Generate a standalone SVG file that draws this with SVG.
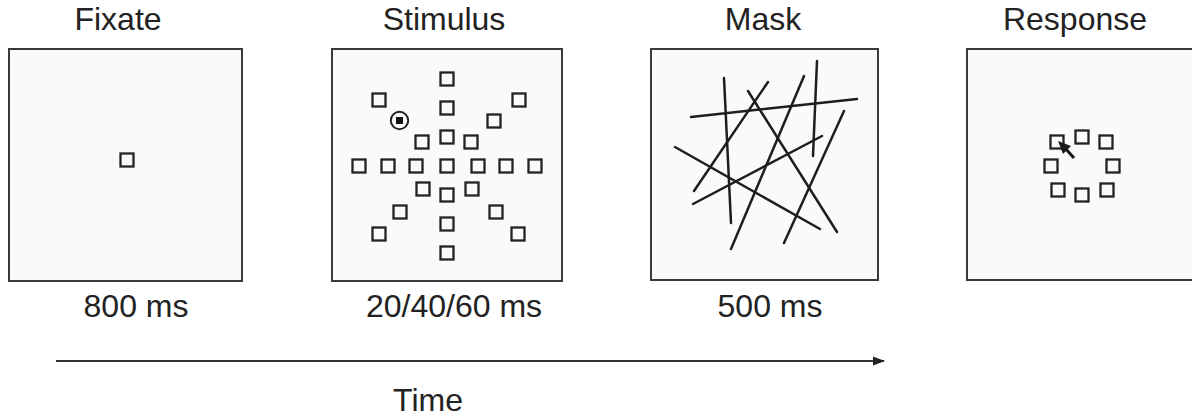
<svg xmlns="http://www.w3.org/2000/svg" width="1192" height="419" viewBox="0 0 1192 419">
<style>
.lbl{font-family:"Liberation Sans",Arial,sans-serif;font-size:32px;fill:#222;text-anchor:middle}
.panel{fill:#fafafa;stroke:#3a3a3a;stroke-width:2}
.sq{fill:none;stroke:#222;stroke-width:2.3}
.ln{stroke:#1e1e1e;stroke-width:2.5;stroke-linecap:round;fill:none}
</style>
<defs>
<rect id="s" x="-6.5" y="-6.5" width="13" height="13" class="sq"/>
<marker id="ah" markerWidth="12" markerHeight="10" refX="11" refY="5" orient="auto" markerUnits="userSpaceOnUse">
<path d="M0,0.5 L12,5 L0,9.5 Z" fill="#222"/>
</marker>
</defs>
<rect width="1192" height="419" fill="#fff"/>

<g id="fixate">
<text class="lbl" x="118" y="30">Fixate</text>
<rect class="panel" x="9" y="49" width="233" height="232"/>
<use href="#s" x="127" y="160"/>
<text class="lbl" x="136" y="317">800 ms</text>
</g>

<g id="stimulus">
<text class="lbl" x="444" y="30">Stimulus</text>
<rect class="panel" x="332" y="49" width="230" height="232"/>
<use href="#s" x="447" y="79"/>
<use href="#s" x="447" y="108"/>
<use href="#s" x="447" y="137"/>
<use href="#s" x="447" y="166"/>
<use href="#s" x="447" y="195"/>
<use href="#s" x="447" y="224"/>
<use href="#s" x="447" y="253"/>
<use href="#s" x="359" y="166"/>
<use href="#s" x="388" y="166"/>
<use href="#s" x="416" y="166"/>
<use href="#s" x="478" y="166"/>
<use href="#s" x="506" y="166"/>
<use href="#s" x="535" y="166"/>
<use href="#s" x="379" y="100"/>
<use href="#s" x="422" y="142"/>
<use href="#s" x="519" y="100"/>
<use href="#s" x="494" y="121"/>
<use href="#s" x="471" y="142"/>
<use href="#s" x="423" y="189"/>
<use href="#s" x="400" y="212"/>
<use href="#s" x="379" y="234"/>
<use href="#s" x="472" y="189"/>
<use href="#s" x="496" y="212"/>
<use href="#s" x="518" y="234"/>
<circle cx="399.5" cy="120.5" r="8.7" fill="none" stroke="#222" stroke-width="2"/>
<rect x="396" y="117" width="7" height="7" fill="#111"/>
<text class="lbl" x="454" y="317">20/40/60 ms</text>
</g>

<g id="mask">
<text class="lbl" x="763" y="30">Mask</text>
<rect class="panel" x="651" y="49" width="227" height="231"/>
<line class="ln" x1="691" y1="117" x2="857" y2="99"/>
<line class="ln" x1="724" y1="78" x2="731" y2="223"/>
<line class="ln" x1="768" y1="82" x2="694" y2="191"/>
<line class="ln" x1="748" y1="91" x2="837" y2="232"/>
<line class="ln" x1="804" y1="76" x2="731" y2="249"/>
<line class="ln" x1="817" y1="61" x2="813" y2="156"/>
<line class="ln" x1="675" y1="147" x2="820" y2="229"/>
<line class="ln" x1="822" y1="136" x2="693" y2="204"/>
<line class="ln" x1="844" y1="111" x2="784" y2="243"/>
<text class="lbl" x="770" y="317">500 ms</text>
</g>

<g id="response">
<text class="lbl" x="1075" y="30">Response</text>
<rect class="panel" x="967" y="49" width="240" height="231"/>
<use href="#s" x="1057" y="142"/>
<use href="#s" x="1082" y="137"/>
<use href="#s" x="1106" y="142"/>
<use href="#s" x="1051" y="166"/>
<use href="#s" x="1113" y="166"/>
<use href="#s" x="1058" y="190"/>
<use href="#s" x="1082" y="195"/>
<use href="#s" x="1107" y="190"/>
<path d="M1058,141 L1071,146 L1063,154 Z" fill="#1a1a1a"/>
<line x1="1065" y1="148" x2="1074" y2="158" stroke="#1a1a1a" stroke-width="3"/>
</g>

<g id="connectors">
<line x1="56" y1="361" x2="884" y2="361" stroke="#333" stroke-width="1.8" marker-end="url(#ah)"/>
</g>
<g id="time-label">
<text class="lbl" x="428" y="411">Time</text>
</g>
</svg>
